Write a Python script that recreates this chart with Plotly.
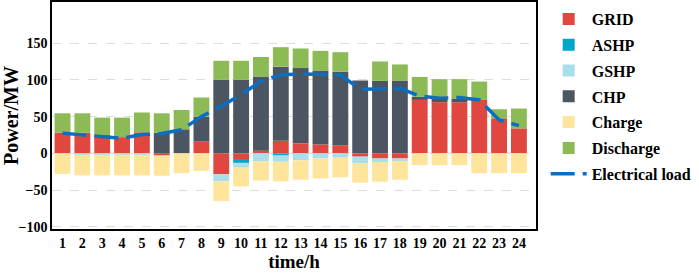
import plotly.graph_objects as go

hours = list(range(1, 25))
tick_labels = [str(h) for h in hours]

grid = [28, 28, 25, 22, 28.6, -3, 0, 16, -28.5, -9, 3.6, 17, 13.6, 12, 11, -4.5, -7, -7, 72.7, 69.5, 69.5, 72.7, 47.7, 34]
ashp = [0, 0, 0, 0, 0, 0, 0, 0, 0, -4, 0, -3, 0, 0, 0, 0, 0, 0, 0, 0, 0, 0, 0, 0]
gshp = [0, -2, -2, -2, -2, 0, 0, 0, -9.5, -6.5, -11, -8.5, -9.5, -7, -6, -9, -4.8, -3.5, 0, 0, 0, 0, 0, 0]
chp = [0, 0, 0, 0, 0, 28, 32.7, 34, 100, 100, 101, 101, 102.4, 100.7, 100, 99, 98.6, 99, 4.3, 4.5, 4.5, 0, 0, 0]
charge = [-28, -28, -28, -28, -28, -27.5, -27, -24, -27, -25.5, -26, -26.6, -26.5, -27, -26.7, -26.4, -26.8, -25.5, -16, -16, -16, -27, -27, -27]
discharge = [26.5, 26.5, 23.6, 26.6, 27, 26.5, 26.3, 26, 26, 26, 26.5, 26.5, 26.7, 26.8, 26.7, 0, 26.4, 22, 27, 27, 27, 25, 12.3, 27]
load = [27.5, 25, 23.6, 20.5, 25.5, 27, 32, 50, 64, 80, 98, 107, 108, 107, 107, 87, 88, 88.6, 78, 75, 76, 72.7, 45.5, 37.7]

series = [
    ("GRID", grid, "#E0483F"),
    ("ASHP", ashp, "#00A8C6"),
    ("GSHP", gshp, "#A8DFEA"),
    ("CHP", chp, "#4B5662"),
    ("Charge", charge, "#FEE59B"),
    ("Discharge", discharge, "#8CBB56"),
]

FONT = "Liberation Serif"
fig = go.Figure()
for i, (name, vals, col) in enumerate(series):
    fig.add_trace(go.Bar(x=hours, y=vals, name=name, marker=dict(color=col, line=dict(width=0)),
                         legendgroup=name))
fig.add_trace(go.Scatter(x=hours, y=load, name="Electrical load", mode="lines",
                         line=dict(color="#0A6FC2", width=3.5, dash="24px,8px"),
                         legendgroup="load"))

xr = [0.47, 24.86]
yr = [-103, 206]
fig.update_layout(
    width=699, height=275,
    margin=dict(l=52, r=163, t=2, b=46, autoexpand=False),
    barmode="relative", bargap=0.2,
    plot_bgcolor="white", paper_bgcolor="white",
    font=dict(family=FONT, size=14, color="black", weight="bold"),
    legend=dict(x=1.02, y=1.0, xanchor="left", yanchor="top", tracegroupgap=2, itemwidth=36,
                font=dict(family=FONT, size=16, color="black", weight="bold"),
                bgcolor="rgba(0,0,0,0)"),
    xaxis=dict(range=xr, tickvals=hours, ticktext=tick_labels, showline=True, linecolor="black",
               linewidth=1.5, mirror=True, ticks="", showgrid=False, zeroline=False, automargin=False,
               title=dict(text="time/h", font=dict(family=FONT, size=19, weight="bold"), standoff=4),
               tickfont=dict(family=FONT, size=14, weight="bold")),
    xaxis2=dict(range=xr, overlaying="x", anchor="free", position=(0 - yr[0]) / (yr[1] - yr[0]),
                side="top", showline=True, linecolor="#aaaaaa", linewidth=1, automargin=False,
                tickvals=[h + 0.5 for h in hours[:-1]], ticks="outside", ticklen=4,
                tickcolor="#aaaaaa", showticklabels=False, showgrid=False, zeroline=False),
    yaxis=dict(range=yr, tickvals=[-100, -50, 0, 50, 100, 150], showline=True, linecolor="black",
               linewidth=1.5, mirror=True, ticks="", showgrid=True, gridcolor="#dddddd",
               griddash="dash", zeroline=False, automargin=False,
               title=dict(text="Power/MW", font=dict(family=FONT, size=20, weight="bold"), standoff=4),
               tickfont=dict(family=FONT, size=14, weight="bold")),
)
fig.write_html("out.html", config={"displayModeBar": False},
               post_script="document.body.style.margin='0';document.body.style.overflow='hidden';")
